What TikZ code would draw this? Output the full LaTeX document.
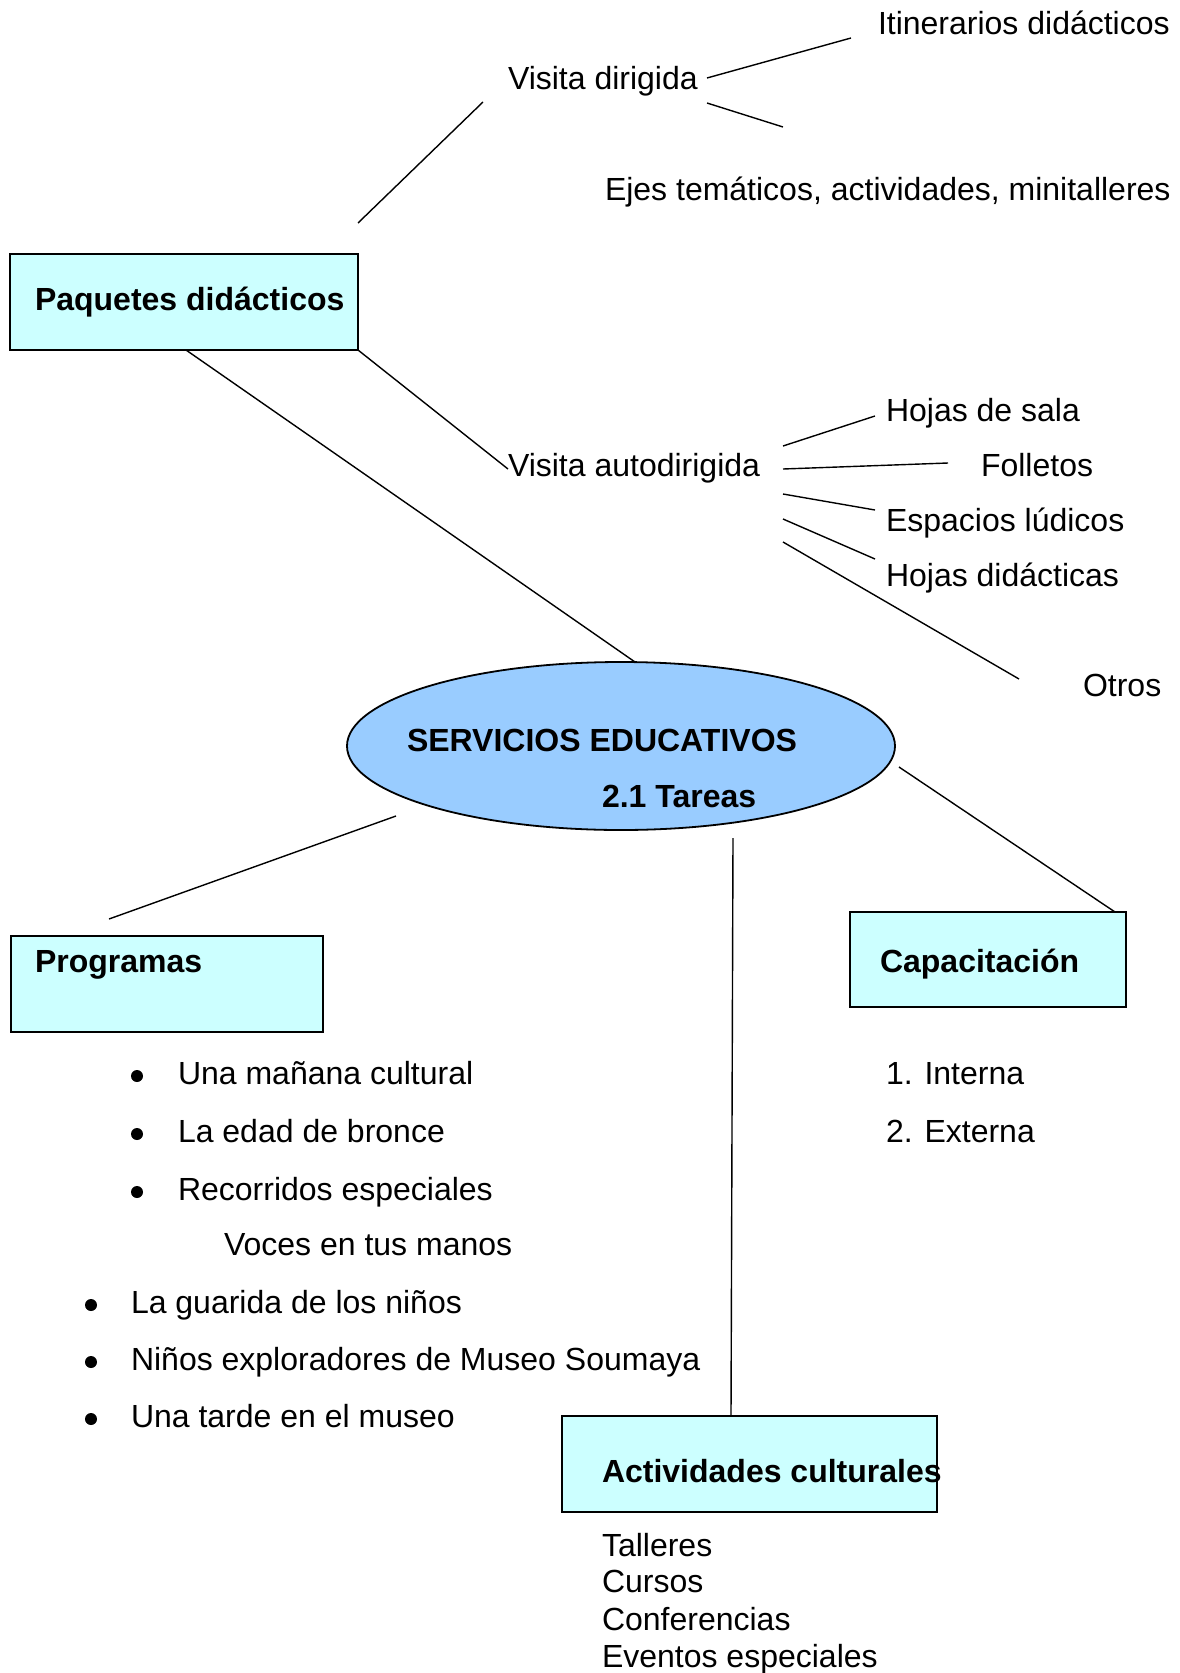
\documentclass[tikz,border=0pt]{standalone}
\usepackage{fontspec}
\setmainfont{Liberation Sans}
\usetikzlibrary{shapes.geometric}
\definecolor{boxfill}{HTML}{CCFFFF}
\definecolor{ellfill}{HTML}{99CCFF}
\begin{document}
\begin{tikzpicture}[x=1pt,y=-1pt,
  every node/.style={inner sep=0pt,outer sep=0pt},
  txt/.style={anchor=base west,font=\fontsize{32}{37}\selectfont},
  btxt/.style={anchor=base west,font=\fontsize{32}{37}\selectfont\bfseries},
  boxnode/.style={draw,line width=2pt,fill=boxfill,anchor=north west},
  link/.style={line width=1.4pt},
  bul/.style={circle,fill=black,minimum size=12pt}]
\useasboundingbox (0,0) rectangle (1179,1673);
% boxes
\node[boxnode,minimum width=348,minimum height=96] (paq) at (10,254) {};
\node[boxnode,minimum width=312,minimum height=96] (prog) at (11,936) {};
\node[boxnode,minimum width=276,minimum height=95] (cap) at (850,912) {};
\node[boxnode,minimum width=375,minimum height=96] (act) at (562,1416) {};
\node[draw,line width=1.8pt,fill=ellfill,ellipse,minimum width=548,minimum height=168] (se) at (621,746) {};
% texts
\node[btxt] (tpaq) at (35,310) {Paquetes didácticos};
\node[btxt] (tprog) at (35,972) {Programas};
\node[btxt] (tcap) at (880,972) {Capacitación};
\node[btxt] (tact) at (602,1482) {Actividades culturales};
\node[btxt] (tse1) at (407,751) {SERVICIOS EDUCATIVOS};
\node[btxt] (tse2) at (602,807) {2.1 Tareas};
\node[txt] (itin) at (878,34) {Itinerarios didácticos};
\node[txt] (vdir) at (508,89) {Visita dirigida};
\node[txt] (ejes) at (605,200) {Ejes temáticos, actividades, minitalleres};
\node[txt] (vaut) at (508,476) {Visita autodirigida};
\node[txt] (hsala) at (886,421) {Hojas de sala};
\node[txt] (foll) at (981,476) {Folletos};
\node[txt] (esp) at (886,531) {Espacios lúdicos};
\node[txt] (hdid) at (886,586) {Hojas didácticas};
\node[txt] (otros) at (1083,696) {Otros};
\node[txt] (int) at (886,1084) {1. Interna};
\node[txt] (ext) at (886,1142) {2. Externa};
\node[bul] (b1) at (137,1076) {};
\node[bul] (b2) at (137,1134) {};
\node[bul] (b3) at (137,1192) {};
\node[txt] (p1) at (178,1084) {Una mañana cultural};
\node[txt] (p2) at (178,1142) {La edad de bronce};
\node[txt] (p3) at (178,1200) {Recorridos especiales};
\node[txt] (p4) at (224,1255) {Voces en tus manos};
\node[bul] (b5) at (91,1305) {};
\node[bul] (b6) at (91,1362) {};
\node[bul] (b7) at (91,1419) {};
\node[txt] (p5) at (131,1313) {La guarida de los niños};
\node[txt] (p6) at (131,1370) {Niños exploradores de Museo Soumaya};
\node[txt] (p7) at (131,1427) {Una tarde en el museo};
\node[txt] (a1) at (602,1556) {Talleres};
\node[txt] (a2) at (602,1592) {Cursos};
\node[txt] (a3) at (602,1630) {Conferencias};
\node[txt] (a4) at (602,1667) {Eventos especiales};
% connector end points
\coordinate (c1a) at (707,78);  \coordinate (c1b) at (851,38);
\coordinate (c2a) at (707,103); \coordinate (c2b) at (783,127);
\coordinate (c3a) at (483,102); \coordinate (c3b) at (358,223);
\coordinate (c4a) at (186,350); \coordinate (c4b) at (635,662);
\coordinate (c5a) at (358,350); \coordinate (c5b) at (508,469);
\coordinate (d1a) at (783,446); \coordinate (d1b) at (875,416);
\coordinate (d2a) at (783,469); \coordinate (d2b) at (948,463);
\coordinate (d3a) at (783,494); \coordinate (d3b) at (875,510);
\coordinate (d4a) at (783,519); \coordinate (d4b) at (875,559);
\coordinate (d5a) at (783,542); \coordinate (d5b) at (1019,679);
\coordinate (e1a) at (396,816); \coordinate (e1b) at (109,919);
\coordinate (e2a) at (733,838); \coordinate (e2b) at (731,1416);
\coordinate (e3a) at (899,767); \coordinate (e3b) at (1115,912);
% connectors
\draw[link] (c1a) -- (c1b);
\draw[link] (c2a) -- (c2b);
\draw[link] (c3a) -- (c3b);
\draw[link] (c4a) -- (c4b);
\draw[link] (c5a) -- (c5b);
\draw[link] (d1a) -- (d1b);
\draw[link] (d2a) -- (d2b);
\draw[link] (d3a) -- (d3b);
\draw[link] (d4a) -- (d4b);
\draw[link] (d5a) -- (d5b);
\draw[link] (e1a) -- (e1b);
\draw[link] (e2a) -- (e2b);
\draw[link] (e3a) -- (e3b);
\end{tikzpicture}
\end{document}
